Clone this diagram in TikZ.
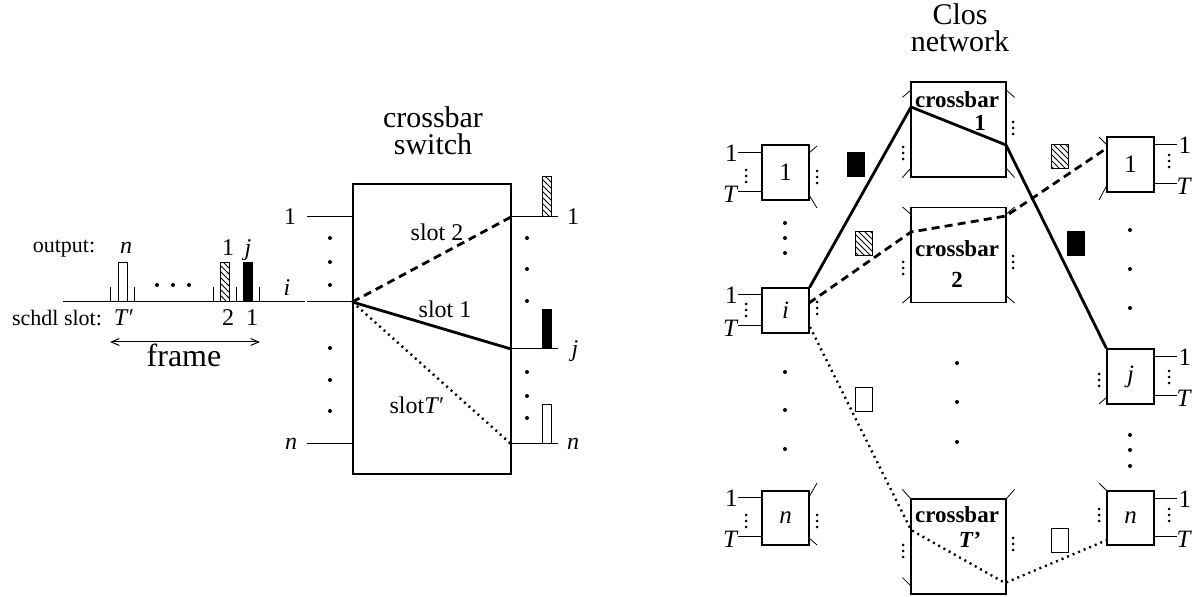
\documentclass[tikz,border=0pt]{standalone}
\usepackage{fontspec}
\setmainfont{Liberation Serif}
\usetikzlibrary{arrows,shapes,patterns}
\tikzstyle{box}=[draw, line width=0.6pt, inner sep=0pt]
\tikzstyle{module}=[box, minimum width=23.5pt, font=\fontsize{12.5}{14}\selectfont]
\tikzstyle{xbar}=[box, minimum width=47.5pt, minimum height=47.5pt]
\tikzstyle{xlbl}=[inner sep=0pt, font=\fontsize{11.5}{12}\selectfont\bfseries]
\tikzstyle{lbl}=[inner sep=0pt, font=\fontsize{12}{14}\selectfont]
\tikzstyle{side}=[inner sep=0pt, font=\fontsize{12.5}{14}\selectfont]
\tikzstyle{small}=[inner sep=0pt, font=\fontsize{11}{13}\selectfont]
\tikzstyle{title}=[align=center, inner sep=0pt, font=\fontsize{15}{13.5}\selectfont]
\tikzstyle{cell}=[draw, line width=0.5pt, inner sep=0pt]
\tikzstyle{tcell}=[cell, minimum width=4.5pt, minimum height=19.5pt, anchor=south]
\tikzstyle{ccell}=[cell, minimum width=8.5pt, minimum height=12pt]
\tikzstyle{hatch}=[pattern=north west lines]
\tikzstyle{route}=[line width=1.4pt]
\tikzstyle{rdash}=[line width=1.4pt, dash pattern=on 4pt off 2.6pt]
\tikzstyle{rdot}=[line width=1.2pt, dash pattern=on 1pt off 2pt]
\tikzstyle{stub}=[line width=0.4pt]
\newcommand{\tridots}[2]{\foreach \k in {0,6,12} \fill (#1,#2-6+\k) circle (0.75pt);}

\begin{document}
\begin{tikzpicture}[x=0.5pt,y=-0.5pt,line width=0.5pt]
\useasboundingbox (0,0) rectangle (1203,597);

% time line of input i
\coordinate (tl0) at (63,302);
\coordinate (tl1) at (305,302);
\draw (tl0) -- (tl1);
\foreach \x in {110,134,213,236,259} \draw (\x,302) -- (\x,287);
\node[tcell] (cn) at (123,302) {};
\node[tcell, hatch] (c2) at (225,302) {};
\node[tcell, fill=black] (c1) at (248,302) {};
\node[small] (outp) at (64,249) {output:};
\node[lbl] (on) at (126,248) {\textit{n}};
\node[lbl] (o1) at (228,248) {1};
\node[lbl] (oj) at (248,250) {\textit{j}};
\node[small] (schd) at (57,318) {schdl slot:};
\node[lbl] (sT) at (124,318) {\textit{T}′};
\node[lbl] (s2) at (228,318) {2};
\node[lbl] (s1) at (252,318) {1};
\foreach \x in {157,173,189} \fill (\x,285) circle (1pt);
\coordinate (fr0) at (110,342);
\coordinate (fr1) at (260,342);
\draw[<->, >=angle 45] (fr0) -- (fr1);
\node[inner sep=0pt, font=\fontsize{16}{18}\selectfont] (frm) at (184,355) {frame};

% crossbar switch
\node[box, minimum width=79pt, minimum height=145pt] (sw) at (432,329) {};
\node[title] (swt) at (433,131) {crossbar\\switch};
\node[lbl] (sw1) at (290,217) {1};
\node[lbl] (swi) at (287,288) {\textit{i}};
\node[lbl] (swn) at (291,444) {\textit{n}};
\coordinate (sa1) at (307,217);
\coordinate (sai) at (307,302);
\coordinate (san) at (307,444);
\draw (sa1) -- (sa1 -| sw.west);
\draw (sai) -- (sai -| sw.west);
\draw (san) -- (san -| sw.west);
\foreach \y in {238,262,285,348,380,411} \fill (330,\y) circle (1pt);
\coordinate (so1) at (511,217);
\coordinate (soj) at (511,349);
\coordinate (son) at (511,444);
\coordinate (se1) at (558,217);
\coordinate (sej) at (558,349);
\coordinate (sen) at (558,444);
\draw (so1) -- (se1);
\draw (soj) -- (sej);
\draw (son) -- (sen);
\node[tcell, hatch, minimum height=20pt] (sc2) at (546.5,217) {};
\node[tcell, fill=black] (sc1) at (546.5,349) {};
\node[tcell] (scn) at (546.5,444) {};
\node[lbl] (so1l) at (573,217) {1};
\node[lbl] (sojl) at (575,351) {\textit{j}};
\node[lbl] (sonl) at (573,444) {\textit{n}};
\foreach \y in {238,269,301,372,396,418} \fill (527,\y) circle (1pt);
\draw[rdash] (sai -| sw.west) -- (so1);
\draw[route] (sai -| sw.west) -- (soj);
\draw[rdot] (sai -| sw.west) -- (son);
\node[lbl] (sl2) at (437,232) {slot 2};
\node[lbl] (sl1) at (445,309) {slot 1};
\node[lbl] (slT) at (417,405) {slot\textit{T}′};

% Clos network
\node[title] (clos) at (960,28) {Clos\\network};
\node[module, minimum height=27.5pt] (in1) at (785.5,172.5) {1};
\node[module, minimum height=22.5pt] (ini) at (785.5,310.5) {\textit{i}};
\node[module, minimum height=27pt] (inn) at (785.5,518) {\textit{n}};
\node[module, minimum height=27.5pt] (out1) at (1130.5,164.5) {1};
\node[module, minimum height=27.5pt] (outj) at (1130.5,376.5) {\textit{j}};
\node[module, minimum height=27pt] (outn) at (1130.5,518) {\textit{n}};
\node[xbar] (xb1) at (958.5,129.5) {};
\node[xbar] (xb2) at (958.5,255) {};
\node[xbar] (xbT) at (958.5,546.5) {};
\node[xlbl] (xb1a) at (957,100) {crossbar};
\node[xlbl] (xb1b) at (980,123) {1};
\node[xlbl] (xb2a) at (957,249) {crossbar};
\node[xlbl] (xb2b) at (957,280) {2};
\node[xlbl] (xbTa) at (957,515) {crossbar};
\node[xlbl] (xbTb) at (970,540) {\textit{T}’};

% input side lines of first stage
\foreach \m/\a/\b in {in1/153/192, ini/295/326, inn/498/537} {
  \draw (738,\a) -- (\m.west |- 0,\a);
  \draw (738,\b) -- (\m.west |- 0,\b);
  \node[side, anchor=east] at (738,\a) {1};
  \node[side, anchor=east] at (739,\b+2) {\textit{T}};
}
% output side lines of last stage
\foreach \m/\a/\b in {out1/145/184, outj/357/396, outn/499/537} {
  \draw (\m.east |- 0,\a) -- (1177,\a);
  \draw (\m.east |- 0,\b) -- (1177,\b);
  \node[side, anchor=west] at (1178,\a) {1};
  \node[side, anchor=west] at (1176,\b+2) {\textit{T}};
}
\tridots{746}{176} \tridots{746}{310} \tridots{746}{521}
\tridots{817}{177} \tridots{817}{308} \tridots{817}{521}
\tridots{1169}{161} \tridots{1169}{377} \tridots{1169}{515}
\tridots{1099}{380} \tridots{1099}{515}
\tridots{903}{153} \tridots{1013}{128}
\tridots{903}{268} \tridots{1013}{262}
\tridots{903}{551} \tridots{1013}{544}
\foreach \y in {223,238,253,372,410,449} \fill (785,\y) circle (1pt);
\foreach \y in {230,269,308,435,450,466} \fill (1130,\y) circle (1pt);
\foreach \y in {363,402,442} \fill (957,\y) circle (1pt);

% link stubs
\draw[stub] (809,153) -- (817,146);
\draw[stub] (809,195) -- (817,208);
\draw[stub] (809,497) -- (817,483);
\draw[stub] (809,538) -- (817,545);
\draw[stub] (1099,137) -- (1107,145);
\draw[stub] (1099,200) -- (1107,185);
\draw[stub] (1099,404) -- (1107,397);
\draw[stub] (1099,483) -- (1107,491);
\draw[stub] (xb1.north west) ++(0,9) -- ++(-8,7);
\draw[stub] (xb1.north east) ++(0,9) -- ++(8,7);
\draw[stub] (xb1.south west) ++(0,-9) -- ++(-8,9);
\draw[stub] (xb1.south east) ++(0,-9) -- ++(8,9);
\draw[stub] (xb2.north west) ++(0,7) -- ++(-8,-7);
\draw[stub] (xb2.north east) ++(0,7) -- ++(8,-7);
\draw[stub] (xb2.south west) ++(0,-7) -- ++(-8,7);
\draw[stub] (xb2.south east) ++(0,-7) -- ++(8,7);
\draw[stub] (xbT.north west) -- ++(-8,-9);
\draw[stub] (xbT.north east) -- ++(8,-9);
\draw[stub] (xbT.south west) ++(0,-9) -- ++(-8,-8);

% routes through the Clos network
\coordinate (a1) at (911,107);
\coordinate (a2) at (1006,145);
\coordinate (b0) at (809,303);
\coordinate (b1) at (911,232);
\coordinate (b2) at (1006,216);
\coordinate (b3) at (1107,148);
\coordinate (d0) at (810,327);
\coordinate (d1) at (911,530);
\coordinate (d2) at (1005,583);
\coordinate (d3) at (1107,540);
\draw[route] (ini.north east) -- (a1) -- (a2) -- (outj.north west);
\draw[rdash] (b0) -- (b1) -- (b2) -- (b3);
\draw[rdot] (d0) -- (d1) -- (d2) -- (d3);

% cells on the links
\node[ccell, fill=black] (k1) at (855.5,165) {};
\node[ccell, hatch] (k2) at (863.5,243.5) {};
\node[ccell] (kT) at (863.5,400) {};
\node[ccell, hatch] (m2) at (1060,156.5) {};
\node[ccell, fill=black] (m1) at (1075.5,244) {};
\node[ccell] (mT) at (1060,541) {};
\end{tikzpicture}
\end{document}
